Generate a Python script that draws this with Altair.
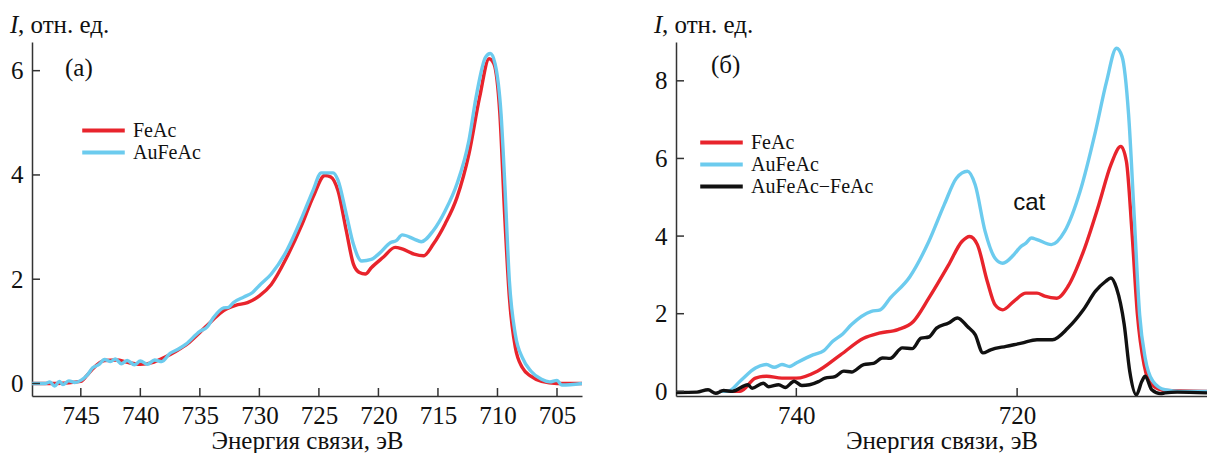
import altair as alt
import pandas as pd

# ---------------- data ----------------
# Panel (a)
a_feac_e = [749.1, 747.0, 745.0, 744.5, 744.0, 743.0, 742.0, 741.0, 740.0, 739.0, 738.0, 737.0,
            736.0, 735.0, 734.0, 733.0, 732.0, 731.0, 730.0, 729.0, 727.7, 726.4, 725.5, 724.5,
            724.0, 723.4, 722.7, 722.1, 721.6, 721.1, 720.6, 719.6, 718.6, 718.0, 717.0, 716.2,
            715.4, 714.4, 713.4, 712.4, 711.5, 710.7, 710.3, 709.8, 709.4, 709.0, 708.5, 707.9,
            707.2, 706.3, 705.0, 702.9]
a_feac_i = [0.0, 0.0, 0.04, 0.15, 0.28, 0.44, 0.45, 0.40, 0.37, 0.40, 0.50, 0.62,
            0.77, 0.98, 1.20, 1.40, 1.50, 1.55, 1.68, 1.90, 2.42, 3.06, 3.57, 3.99,
            3.96, 3.70, 2.93, 2.29, 2.13, 2.10, 2.22, 2.42, 2.61, 2.58, 2.48, 2.45,
            2.67, 3.06, 3.57, 4.40, 5.49, 6.23, 6.13, 5.17, 3.25, 1.65, 0.69, 0.30,
            0.14, 0.04, 0.0, 0.0]
a_au_e = [749.1, 748.0, 747.6, 747.2, 746.8, 746.5, 746.0, 745.5, 745.0, 744.5, 744.0, 743.5,
          743.0, 742.5, 742.1, 741.6, 741.1, 740.5, 740.0, 739.4, 738.8, 738.2, 737.5, 736.8,
          736.2, 735.0, 734.4, 733.9, 733.0, 732.6, 732.2, 731.3, 730.6, 730.0, 729.0, 727.7,
          726.4, 725.5, 724.8, 723.8, 723.4, 722.7, 722.1, 721.4, 720.6, 719.9, 719.0, 718.5,
          718.0, 717.0, 716.4, 715.4, 714.4, 713.4, 712.4, 711.8, 711.0, 710.6, 710.2, 709.7,
          709.4, 709.0, 708.5, 707.9, 707.2, 706.3, 705.6, 705.0, 704.6, 702.9]
a_au_i = [0.0, 0.0, 0.03, -0.05, 0.04, -0.02, 0.05, 0.02, 0.06, 0.15, 0.30, 0.36,
          0.46, 0.42, 0.47, 0.38, 0.44, 0.36, 0.43, 0.37, 0.45, 0.42, 0.58, 0.66,
          0.75, 1.00, 1.08, 1.25, 1.45, 1.46, 1.55, 1.66, 1.74, 1.88, 2.10, 2.55,
          3.20, 3.70, 4.04, 4.04, 3.90, 3.25, 2.67, 2.35, 2.38, 2.50, 2.70, 2.74,
          2.85, 2.77, 2.72, 2.93, 3.31, 3.83, 4.66, 5.49, 6.26, 6.33, 6.13, 5.17,
          3.90, 1.97, 0.94, 0.49, 0.24, 0.08, 0.03, 0.06, -0.03, 0.0]

# Panel (б)
b_feac_e = [747.0, 745.1, 743.7, 742.7, 741.3, 740.0, 738.1, 736.0, 733.9, 732.5, 730.8, 729.4,
            728.0, 726.2, 725.0, 724.3, 723.6, 722.7, 722.0, 721.3, 720.3, 719.2, 718.2, 717.5,
            716.4, 715.4, 714.0, 712.6, 711.5, 710.6, 710.1, 709.6, 709.1, 708.5, 707.8, 706.6,
            702.8]
b_feac_i = [0.0, 0.0, 0.34, 0.39, 0.34, 0.34, 0.52, 0.94, 1.37, 1.50, 1.59, 1.80,
            2.40, 3.26, 3.86, 3.99, 3.78, 2.83, 2.23, 2.10, 2.32, 2.53, 2.53, 2.45,
            2.40, 2.70, 3.60, 4.81, 5.84, 6.31, 5.92, 4.12, 1.97, 0.69, 0.17, 0.02,
            0.0]
b_au_e = [747.0, 746.2, 745.1, 743.7, 742.7, 742.0, 741.3, 740.6, 740.0, 738.5, 737.5, 736.7,
          735.8, 735.0, 733.2, 732.4, 731.5, 729.7, 728.0, 726.6, 725.5, 724.5, 723.8, 722.9,
          722.0, 721.3, 720.3, 719.7, 719.2, 718.7, 718.2, 716.9, 715.7, 714.3, 712.9, 711.9,
          711.0, 710.5, 709.9, 709.4, 708.9, 708.4, 707.7, 706.6, 705.2, 702.8]
b_au_i = [0.0, 0.0, 0.26, 0.60, 0.69, 0.62, 0.69, 0.64, 0.73, 0.94, 1.05, 1.29,
          1.48, 1.72, 2.06, 2.10, 2.40, 2.96, 3.86, 4.81, 5.49, 5.67, 5.32, 4.12,
          3.43, 3.30, 3.52, 3.72, 3.82, 3.95, 3.91, 3.78, 4.12, 5.15, 6.70, 7.98,
          8.84, 8.63, 7.12, 4.55, 1.97, 0.86, 0.26, 0.04, 0.0, 0.0]
b_diff_e = [750.9, 749.0, 748.0, 747.3, 746.6, 745.8, 744.4, 744.0, 743.0, 742.5, 741.6, 741.0,
            740.2, 739.5, 738.8, 738.0, 737.4, 736.5, 735.7, 735.0, 733.9, 733.0, 732.2, 731.5,
            730.4, 729.5, 728.7, 728.0, 727.3, 726.2, 725.4, 724.5, 723.8, 723.1, 722.4, 721.0,
            719.6, 718.2, 716.8, 715.4, 714.0, 712.9, 712.0, 711.5, 711.0, 710.3, 709.8, 709.2,
            708.7, 708.4, 707.8, 707.0, 706.6, 705.5, 702.8]
b_diff_i = [-0.03, -0.02, 0.04, -0.05, 0.02, 0.0, 0.17, 0.08, 0.21, 0.12, 0.17, 0.10,
            0.26, 0.15, 0.17, 0.25, 0.34, 0.38, 0.52, 0.50, 0.69, 0.72, 0.86, 0.85,
            1.12, 1.10, 1.37, 1.40, 1.63, 1.76, 1.89, 1.67, 1.46, 0.99, 1.07, 1.16,
            1.24, 1.33, 1.33, 1.63, 2.10, 2.58, 2.83, 2.92, 2.66, 1.72, 0.52, -0.09,
            0.26, 0.39, 0.04, -0.06, -0.04, -0.02, -0.04]

series_names = ["FeAc", "AuFeAc", "AuFeAc\u2212FeAc"]
series_colors = ["#e8242c", "#6ccbee", "#111111"]

a_xticks = [745, 740, 735, 730, 725, 720, 715, 710, 705]
a_yticks = [0, 2, 4, 6]
b_xticks = [740, 720]
b_yticks = [0, 2, 4, 6, 8]

cat_label = ["cat"]
cat_e = [718.9]
cat_i = [4.85]

X_TITLE = "Энергия связи, эВ"
SERIF = "Liberation Serif"
AXIS_COLOR = "#333333"


def panel(series, xdom, ydom, xticks, yticks, W, H, leg_x, leg_y, tag, tag_x, tag_y, extra=None):
    names = [s[2] for s in series]
    cols = [series_colors[series_names.index(n)] for n in names]
    xs = alt.Scale(domain=xdom, reverse=True, nice=False, zero=False)
    ys = alt.Scale(domain=ydom, nice=False, zero=False)
    xenc = alt.X("E:Q", scale=xs, axis=alt.Axis(
        values=xticks, title=X_TITLE, format="d", labelFlush=False,
        labelFont=SERIF, labelFontSize=25, titleFont=SERIF, titleFontSize=25,
        titleFontWeight="normal", labelPadding=7, titlePadding=0))
    yenc = alt.Y("I:Q", scale=ys, axis=alt.Axis(
        values=yticks, title=None, format="d", labelFlush=False,
        labelFont=SERIF, labelFontSize=25, labelPadding=9))
    color = alt.Color("s:N", scale=alt.Scale(domain=names, range=cols),
                      legend=alt.Legend(orient="none", legendX=leg_x, legendY=leg_y, title=None,
                                        symbolType="M-2.3,0H2.3", symbolSize=342,
                                        symbolStrokeWidth=4, labelFont=SERIF, labelFontSize=20,
                                        labelColor="#111111", labelOffset=18, rowPadding=0,
                                        padding=0, symbolOpacity=1))
    layers = []
    for e, i, n in series:
        df = pd.DataFrame({"E": e, "I": i, "s": n})
        layers.append(alt.Chart(df).mark_line(strokeWidth=3.4, clip=True,
                                              interpolate="monotone").encode(
            x=xenc, y=yenc, color=color))
    # inward ticks
    layers.append(alt.Chart(pd.DataFrame({"I": yticks})).mark_rule(
        color=AXIS_COLOR, strokeWidth=1.5).encode(
        y=yenc, x=alt.value(0), x2=alt.value(8)))
    layers.append(alt.Chart(pd.DataFrame({"E": xticks})).mark_rule(
        color=AXIS_COLOR, strokeWidth=1.5).encode(
        x=xenc, y=alt.value(H), y2=alt.value(H - 8)))
    # y title: italic I + rest
    layers.append(alt.Chart(pd.DataFrame({"t": ["I"]})).mark_text(
        font=SERIF, fontSize=25, fontStyle="italic", align="left", baseline="alphabetic",
        color="#111111").encode(text="t:N", x=alt.value(-22), y=alt.value(-9)))
    layers.append(alt.Chart(pd.DataFrame({"t": [", отн. ед."]})).mark_text(
        font=SERIF, fontSize=25, align="left", baseline="alphabetic",
        color="#111111").encode(text="t:N", x=alt.value(-14), y=alt.value(-9)))
    # panel tag
    layers.append(alt.Chart(pd.DataFrame({"t": [tag]})).mark_text(
        font=SERIF, fontSize=25, align="left", baseline="middle",
        color="#111111").encode(text="t:N", x=alt.value(tag_x), y=alt.value(tag_y)))
    if extra is not None:
        layers.append(extra(xenc, yenc))
    return alt.layer(*layers).properties(width=W, height=H)


def cat_layer(xenc, yenc):
    df = pd.DataFrame({"E": cat_e, "I": cat_i, "t": cat_label})
    return alt.Chart(df).mark_text(font="Liberation Sans", fontSize=24, align="center",
                                   baseline="middle", color="#111111").encode(
        x=xenc, y=yenc, text="t:N")


left = panel([(a_feac_e, a_feac_i, "FeAc"), (a_au_e, a_au_i, "AuFeAc")],
             [702.9, 749.1], [-0.24, 6.55], a_xticks, a_yticks, 550, 354,
             60, 77, "(a)", 33, 26)
right = panel([(b_feac_e, b_feac_i, "FeAc"), (b_au_e, b_au_i, "AuFeAc"),
               (b_diff_e, b_diff_i, "AuFeAc\u2212FeAc")],
              [702.8, 750.9], [-0.12, 9.0], b_xticks, b_yticks, 531, 354,
              34, 89, "(б)", 35, 23, extra=cat_layer)

chart = alt.hconcat(left, right, spacing=72).resolve_scale(
    color="independent", x="independent", y="independent").resolve_legend(
    color="independent").properties(
    padding={"left": 10, "top": 13, "right": 0, "bottom": 0}
).configure_view(stroke=None).configure_axis(
    domainColor=AXIS_COLOR, domainWidth=1.5, ticks=False, grid=False,
    labelColor="#111111", titleColor="#111111"
)

chart.save("out.html", embed_options={"renderer": "svg", "actions": False})
